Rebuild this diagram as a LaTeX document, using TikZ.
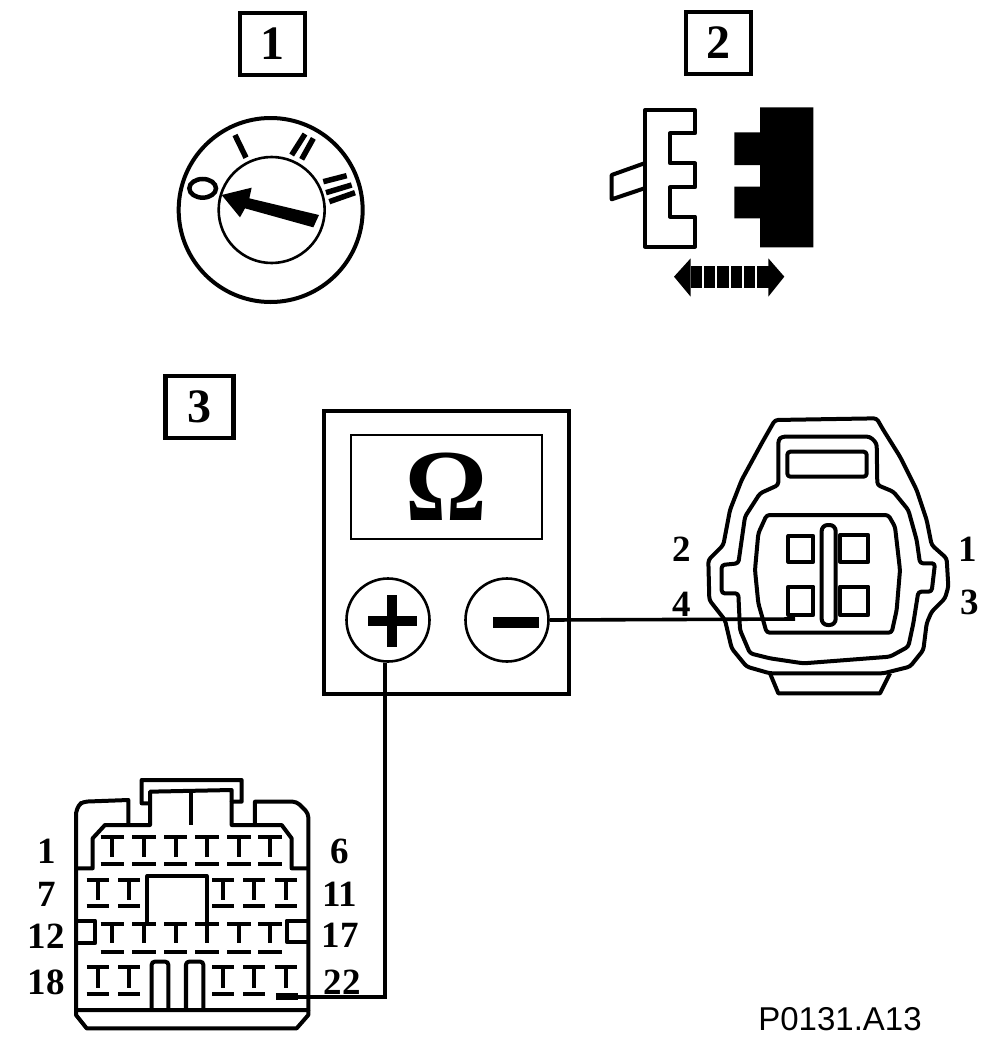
\documentclass[tikz,border=0pt]{standalone}
\usepackage{fontspec}
\setmainfont{Liberation Serif}
\newfontfamily\codefont{Liberation Sans}
\usetikzlibrary{positioning,calc}

\begin{document}
\begin{tikzpicture}[
    x=1pt, y=-1pt,
    numbox/.style={rectangle, draw, line width=4.5pt, minimum width=65pt, minimum height=62pt, inner sep=0pt, font=\fontsize{48}{50}\selectfont\bfseries},
    pinlabel/.style={inner sep=0pt, font=\fontsize{37}{39}\selectfont\bfseries},
    terminal/.style={circle, draw, line width=2.6pt, minimum size=83pt, inner sep=0pt},
    wire/.style={line width=3.6pt},
    outline/.style={line width=4pt, line join=round},
    softline/.style={outline, rounded corners=3pt},
    thinline/.style={line width=3.8pt, line join=round},
    zoomed/.style={x=0.33333pt, y=-0.33333pt}
]
\useasboundingbox (0,0) rectangle (1008,1058);

% Step numbers
\node[numbox] (stepone) at (272.5,44) {1};
\node[numbox] (steptwo) at (718.5,43) {2};
\node[numbox, minimum width=68pt] (stepthree) at (199.5,407) {3};

% Ignition switch
\begin{scope}[shift={(170,110)}, zoomed]
\node[circle, draw, line width=4pt, minimum size=184pt, inner sep=0pt] (dialouter) at (302,300) {};
\node[circle, draw, line width=2.6pt, minimum size=106pt, inner sep=0pt] (dialinner) at (305,300) {};
\fill (155,255) -- (245,233) -- (238,265) -- (447,315) -- (430,352) -- (225,295) -- (210,322) -- cycle;
\draw[line width=4.5pt] (98,235) ellipse (40 and 28);
\draw[line width=5.5pt] (195,75) -- (228,143);
\draw[line width=5.5pt] (365,135) -- (405,72);
\draw[line width=5.5pt] (395,148) -- (430,85);
\draw[line width=5.5pt] (460,215) -- (530,197);
\draw[line width=5.5pt] (468,248) -- (545,225);
\draw[line width=5.5pt] (478,275) -- (555,248);
\end{scope}

% Separated plug and socket
\begin{scope}[shift={(600,100)}, zoomed]
\draw[outline] (135,30) -- (285,30) -- (285,100) -- (210,100) -- (210,190) -- (285,190) -- (285,262) -- (210,262) -- (210,350) -- (285,350) -- (285,440) -- (135,440) -- cycle;
\draw[outline] (133,190) -- (35,225) -- (35,298) -- (133,265);
\fill (480,22) -- (640,22) -- (640,442) -- (480,442) -- (480,355) -- (403,355) -- (403,260) -- (480,260) -- (480,195) -- (403,195) -- (403,97) -- (480,97) -- cycle;
\fill (222,530) -- (272,475) -- (272,590) -- cycle;
\fill (553,530) -- (505,475) -- (505,590) -- cycle;
\foreach \xa in {272,312,352,392,432,472} {
    \fill (\xa,497) rectangle ++(34,68);
}
\end{scope}

% Ohmmeter
\draw[line width=4.5pt] (324,411) rectangle (569,694);
\node[draw, line width=2.8pt, minimum width=191pt, minimum height=104pt, inner sep=0pt, font=\fontsize{102}{104}\selectfont\bfseries] (display) at (446.5,487) {Ω};
\node[terminal] (plusterm) at (388,620) {};
\node[terminal] (minusterm) at (507,620) {};
\draw[line width=10pt] ($(plusterm)+(-20,1)$) -- ($(plusterm)+(29,1)$);
\draw[line width=10pt] ($(plusterm)+(4,-25)$) -- ($(plusterm)+(4,27)$);
\draw[line width=11pt] ($(minusterm)+(-14,2)$) -- ($(minusterm)+(32,2)$);

% Four pin connector
\begin{scope}[shift={(670,410)}, zoomed]
\draw[softline] (315,30) -- (620,25) -- (640,60) -- (690,140) -- (740,240) -- (770,330) -- (785,405) -- (830,445) -- (835,530) -- (825,565) -- (785,605) -- (770,640) -- (760,720) -- (720,770) -- (640,790) -- (300,790) -- (230,770) -- (185,715) -- (165,630) -- (118,570) -- (115,450) -- (160,405) -- (180,300) -- (215,210) -- (275,100) -- cycle;
\draw[outline] (300,790) -- (325,850) -- (630,850) -- (660,790);
\draw[softline] (325,225) -- (325,90) -- (335,80) -- (600,80) -- (620,100) -- (622,225) -- (670,245) -- (715,300) -- (740,390) -- (750,460) -- (795,460) -- (785,545) -- (745,545) -- (730,640) -- (715,710) -- (660,740) -- (400,760) -- (300,745) -- (240,730) -- (210,660) -- (205,550) -- (155,550) -- (155,465) -- (205,460) -- (225,320) -- (270,250) -- cycle;
\draw[softline] (290,315) -- (655,315) -- (675,350) -- (690,480) -- (680,600) -- (665,668) -- (290,668) -- (265,580) -- (255,480) -- (265,370) -- cycle;
\draw[outline, rounded corners=3pt] (352,125) rectangle (590,200);
\draw[outline] (355,378) rectangle (430,455);
\draw[outline] (510,375) rectangle (595,455);
\draw[outline] (355,530) rectangle (430,615);
\draw[outline] (510,530) rectangle (595,615);
\draw[outline, rounded corners=6pt] (455,345) rectangle (497,645);
\coordinate (pinfour) at (375,627);
\end{scope}
\node[pinlabel] (lbltwo) at (682,549) {2};
\node[pinlabel] (lblone) at (968,549) {1};
\node[pinlabel] (lblfour) at (682,604) {4};
\node[pinlabel] (lblthree) at (970,602) {3};

% Twenty two pin connector
\begin{scope}[shift={(60,770)}, zoomed]
\draw[outline] (48,720) -- (48,130) [rounded corners=4pt] -- (55,105) -- (70,95) [sharp corners] -- (205,90) -- (205,165) -- (270,165) -- (270,100) -- (245,100) -- (245,30) -- (545,30) -- (545,95) -- (515,95) -- (515,165) -- (585,165) -- (585,95) [rounded corners=4pt] -- (710,95) -- (745,130) [sharp corners] -- (745,720) -- cycle;
\draw[outline] (270,100) -- (270,65) -- (515,60) -- (515,95);
\draw[outline] (392,70) -- (392,165);
\draw[outline] (50,295) -- (98,295) -- (98,205) -- (135,165) -- (205,165);
\draw[outline] (585,165) -- (665,165) -- (695,205) -- (695,295) -- (745,295);
\draw[outline] (48,720) -- (48,735) -- (80,775) -- (710,775) -- (745,735) -- (745,720);
\draw[outline] (262,455) -- (262,318) -- (440,318) -- (440,455);
\draw[outline] (50,452) -- (105,452) -- (105,520) -- (50,520);
\draw[outline] (745,452) -- (680,452) -- (680,515) -- (745,515);
\draw[outline, rounded corners=3pt] (275,720) -- (275,575) -- (325,575) -- (325,720);
\draw[outline, rounded corners=3pt] (378,720) -- (378,575) -- (430,575) -- (430,720);
% pins, six in the odd rows and five in the even rows
\foreach \xp in {157,252,347,441,537,630} {
    \draw[thinline] (\xp-35,200) -- (\xp+35,200) (\xp,200) -- (\xp,262) (\xp-35,282) -- (\xp+35,282);
    \draw[thinline] (\xp-35,462) -- (\xp+35,462) (\xp,462) -- (\xp,520) (\xp-35,545) -- (\xp+35,545);
}
\foreach \xp in {113,207,490,583,677} {
    \draw[thinline] (\xp-33,330) -- (\xp+33,330) (\xp,330) -- (\xp,390) (\xp-33,408) -- (\xp+33,408);
    \draw[thinline] (\xp-33,590) -- (\xp+33,590) (\xp,590) -- (\xp,655);
}
\foreach \xp in {113,207,490,583} {
    \draw[thinline] (\xp-33,672) -- (\xp+33,672);
}
\draw[line width=7pt] (648,678) -- (715,678);
\coordinate (pintwentytwo) at (715,681);
\end{scope}
\node[pinlabel] (lblrowa) at (47,851) {1};
\node[pinlabel] (lblrowb) at (47,894) {7};
\node[pinlabel] (lblrowc) at (46,936) {12};
\node[pinlabel] (lblrowd) at (46,982) {18};
\node[pinlabel] (lblenda) at (340,851) {6};
\node[pinlabel] (lblendb) at (340,894) {11};
\node[pinlabel] (lblendc) at (340,935) {17};
\node[pinlabel] (lblendd) at (342,982) {22};

% Wires
\draw[wire] (minusterm.east) -- (pinfour);
\draw[wire] ([xshift=-3pt]plusterm.south) |- (pintwentytwo);

% Figure code
\node[inner sep=0pt, font=\fontsize{33}{35}\selectfont\codefont] (figcode) at (840,1019) {P0131.A13};

\end{tikzpicture}
\end{document}
